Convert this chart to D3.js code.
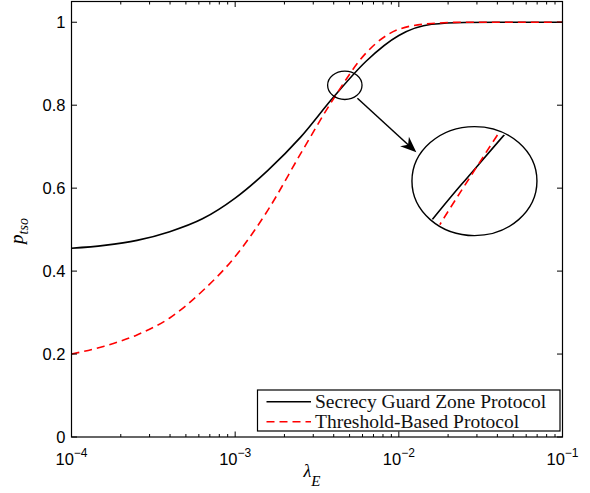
<!DOCTYPE html>
<html>
<head>
<meta charset="utf-8">
<script src="https://cdn.jsdelivr.net/npm/d3@7"></script>
<style>
  body { margin: 0; background: #fff; }
  svg { display: block; }
</style>
</head>
<body>
<svg id="chart" width="590" height="493"></svg>
<script>
// data (log10 of lambda_E, p_tso)
var log_lambda = [-4.0, -3.8, -3.6, -3.4, -3.2, -3.0, -2.8, -2.6, -2.4, -2.2, -2.0, -1.8, -1.6, -1.4, -1.2, -1.0]
var guard_zone = [0.455, 0.462, 0.474, 0.495, 0.526, 0.576, 0.643, 0.723, 0.819, 0.906, 0.968, 0.995, 0.9995, 1.0, 1.0, 1.0]
var threshold  = [0.200, 0.219, 0.246, 0.287, 0.352, 0.435, 0.547, 0.683, 0.815, 0.926, 0.983, 0.997, 1.0, 1.0, 1.0, 1.0]
var y_ticks = [0, 0.2, 0.4, 0.6, 0.8, 1]
var y_labels = ["0", "0.2", "0.4", "0.6", "0.8", "1"]
var x_major = [1e-4, 1e-3, 1e-2, 1e-1]
var x_exps = ["\u22124", "\u22123", "\u22122", "\u22121"]
var legend_names = ["Secrecy Guard Zone Protocol", "Threshold-Based Protocol"]

var svg = d3.select("#chart")
var plot_left = 71.5, plot_right = 562.5, plot_top = 1.5, plot_bottom = 437

var x = d3.scaleLog().domain([1e-4, 1e-1]).range([plot_left, plot_right])
var y = d3.scaleLinear().domain([0, 1.05]).range([plot_bottom, plot_top])

var series = [
  {name: legend_names[0], values: guard_zone, color: "#000", dash: null},
  {name: legend_names[1], values: threshold, color: "#f00", dash: "8,5"}
]
series.forEach(s => {
  s.points = log_lambda.map((l, i) => [Math.pow(10, l), s.values[i]])
})

var line = d3.line()
  .x(d => x(d[0]))
  .y(d => y(d[1]))
  .curve(d3.curveMonotoneX)

var sans = "'Liberation Sans', Arial, Helvetica, sans-serif"
var serif = "'Liberation Serif', 'Times New Roman', serif"

// curves
series.forEach(s => {
  svg.append("path")
    .attr("d", line(s.points))
    .attr("fill", "none")
    .attr("stroke", s.color)
    .attr("stroke-width", 1.6)
    .attr("stroke-dasharray", s.dash)
})

// frame
svg.append("rect")
  .attr("x", plot_left).attr("y", plot_top)
  .attr("width", plot_right - plot_left).attr("height", plot_bottom - plot_top)
  .attr("fill", "none").attr("stroke", "#000").attr("stroke-width", 1.2)

// ticks (inward, mirrored)
var ticks = svg.append("g").attr("stroke", "#000").attr("stroke-width", 1)
x.ticks().forEach(t => {
  var major = x_major.some(m => Math.abs(m - t) / m < 1e-6)
  var len = major ? 5.5 : 3
  var px = x(t)
  ticks.append("line").attr("x1", px).attr("x2", px).attr("y1", plot_bottom).attr("y2", plot_bottom - len)
  ticks.append("line").attr("x1", px).attr("x2", px).attr("y1", plot_top).attr("y2", plot_top + len)
})
y_ticks.forEach(t => {
  var py = y(t)
  ticks.append("line").attr("x1", plot_left).attr("x2", plot_left + 5.5).attr("y1", py).attr("y2", py)
  ticks.append("line").attr("x1", plot_right).attr("x2", plot_right - 5.5).attr("y1", py).attr("y2", py)
})

// tick labels
y_ticks.forEach((t, i) => {
  svg.append("text")
    .attr("x", plot_left - 6).attr("y", y(t) + 6)
    .attr("text-anchor", "end")
    .attr("font-family", sans).attr("font-size", 16.5)
    .text(y_labels[i])
})
x_major.forEach((t, i) => {
  var txt = svg.append("text")
    .attr("x", x(t)).attr("y", 465)
    .attr("text-anchor", "middle")
    .attr("font-family", sans).attr("font-size", 16.5)
  txt.append("tspan").text("10")
  txt.append("tspan").attr("dy", -8).attr("font-size", 12).text(x_exps[i])
})

// axis labels
var xl = svg.append("text")
  .attr("x", 312).attr("y", 476.5)
  .attr("text-anchor", "middle")
  .attr("font-family", serif).attr("font-style", "italic").attr("font-size", 18)
xl.append("tspan").text("\u03bb")
xl.append("tspan").attr("dy", 9.5).attr("font-size", 15).text("E")

var yl = svg.append("text")
  .attr("transform", "translate(23,231) rotate(-90)")
  .attr("text-anchor", "middle")
  .attr("font-family", serif).attr("font-style", "italic").attr("font-size", 19)
yl.append("tspan").text("p")
yl.append("tspan").attr("dy", 5).attr("font-size", 14).text("tso")

// zoom annotation: small ellipse near the crossing, magnified copy in the big one
var focus = {lx: Math.pow(10, -2.33), v: 0.848, rx: 17.2, ry: 14.2}
var lens = {lx: Math.pow(10, -1.538), v: 0.617, rx: 62.5, ry: 54.5}
var cross = {lx: Math.pow(10, -2.378), v: 0.82}
var fcx = x(focus.lx), fcy = y(focus.v)
var lcx = x(lens.lx), lcy = y(lens.v)
var ccx = x(cross.lx), ccy = y(cross.v)
var mag = lens.rx / focus.rx

svg.append("ellipse")
  .attr("cx", fcx).attr("cy", fcy).attr("rx", focus.rx).attr("ry", focus.ry)
  .attr("fill", "none").attr("stroke", "#000").attr("stroke-width", 1.3)

svg.append("clipPath").attr("id", "lensclip")
  .append("ellipse")
  .attr("cx", lcx).attr("cy", lcy).attr("rx", lens.rx - 1.5).attr("ry", lens.ry - 1.5)

var magLine = d3.line()
  .x(d => lcx + (x(d[0]) - ccx) * mag)
  .y(d => lcy + 2 + (y(d[1]) - ccy) * mag)
  .curve(d3.curveMonotoneX)

var lensG = svg.append("g").attr("clip-path", "url(#lensclip)")
series.forEach(s => {
  lensG.append("path")
    .attr("d", magLine(s.points))
    .attr("fill", "none")
    .attr("stroke", s.color)
    .attr("stroke-width", 1.6)
    .attr("stroke-dasharray", s.dash)
})

svg.append("ellipse")
  .attr("cx", lcx).attr("cy", lcy).attr("rx", lens.rx).attr("ry", lens.ry)
  .attr("fill", "none").attr("stroke", "#000").attr("stroke-width", 1.4)

// arrow
var a0 = [x(Math.pow(10, -2.253)), y(0.8166)]
var a1 = [x(Math.pow(10, -1.893)), y(0.6866)]
var dx = a1[0] - a0[0], dy = a1[1] - a0[1]
var dl = Math.sqrt(dx * dx + dy * dy)
var ux = dx / dl, uy = dy / dl, nx = -uy, ny = ux
var headLen = 16, headW = 6.5
svg.append("line")
  .attr("x1", a0[0]).attr("y1", a0[1])
  .attr("x2", a1[0] - ux * 10).attr("y2", a1[1] - uy * 10)
  .attr("stroke", "#000").attr("stroke-width", 1.5)
svg.append("path")
  .attr("d", "M" + a1[0] + "," + a1[1] +
    "L" + (a1[0] - ux * headLen + nx * headW) + "," + (a1[1] - uy * headLen + ny * headW) +
    "L" + (a1[0] - ux * headLen * 0.7) + "," + (a1[1] - uy * headLen * 0.7) +
    "L" + (a1[0] - ux * headLen - nx * headW) + "," + (a1[1] - uy * headLen - ny * headW) + "Z")
  .attr("fill", "#000")

// legend
var lg = svg.append("g")
lg.append("rect")
  .attr("x", 257.5).attr("y", 390).attr("width", 302.5).attr("height", 41)
  .attr("fill", "#fff").attr("stroke", "#000").attr("stroke-width", 1.2)
series.forEach((s, i) => {
  var ly = 401.7 + i * 20
  lg.append("line")
    .attr("x1", 266.5).attr("x2", 311).attr("y1", ly).attr("y2", ly)
    .attr("stroke", s.color).attr("stroke-width", 1.6)
    .attr("stroke-dasharray", s.dash)
  lg.append("text")
    .attr("x", 315).attr("y", ly + 6.5)
    .attr("font-family", serif).attr("font-size", 19.5)
    .attr("fill", "#111")
    .text(s.name)
})
</script>
</body>
</html>
